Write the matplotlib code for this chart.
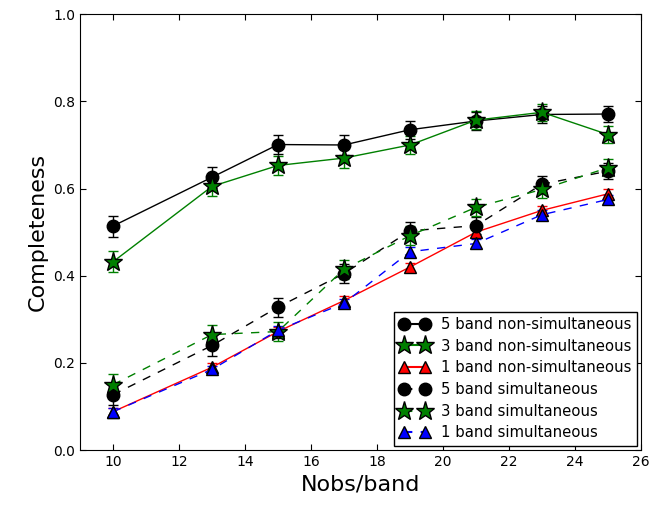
import numpy as np
import matplotlib
matplotlib.use("Agg")
import matplotlib.pyplot as plt
from matplotlib.lines import Line2D

# nombre d'observations par bande
nobs = [10, 13, 15, 17, 19, 21, 23, 25]

# completeness, non-simultaneous
c5_nonsim = [0.514, 0.626, 0.701, 0.700, 0.735, 0.755, 0.770, 0.771]
c3_nonsim = [0.432, 0.605, 0.653, 0.670, 0.700, 0.757, 0.775, 0.724]
c1_nonsim = [0.088, 0.190, 0.272, 0.343, 0.420, 0.500, 0.550, 0.588]

# completeness, simultaneous
c5_sim = [0.127, 0.240, 0.328, 0.405, 0.503, 0.515, 0.610, 0.640]
c3_sim = [0.150, 0.265, 0.272, 0.415, 0.492, 0.557, 0.598, 0.648]
c1_sim = [0.088, 0.185, 0.275, 0.337, 0.455, 0.474, 0.540, 0.575]

# barres d'erreur
err5 = [0.024, 0.024, 0.022, 0.022, 0.021, 0.020, 0.019, 0.019]
err3 = [0.024, 0.023, 0.022, 0.022, 0.021, 0.020, 0.019, 0.020]
err1 = [0.008, 0.009, 0.010, 0.010, 0.010, 0.010, 0.010, 0.010]

plt.rcParams['xtick.direction'] = 'in'
plt.rcParams['ytick.direction'] = 'in'
plt.rcParams['xtick.top'] = True
plt.rcParams['ytick.right'] = True
plt.rcParams['lines.dashed_pattern'] = [6, 6]
plt.rcParams['lines.scale_dashes'] = False

fig = plt.figure(figsize=(6.7, 5.08), dpi=100)
ax = fig.add_axes([0.1194, 0.114, 0.8373, 0.858])

series = [
    (c5_nonsim, err5, '-', 'o', 'k', 9, '5 band non-simultaneous'),
    (c3_nonsim, err3, '-', '*', 'g', 14, '3 band non-simultaneous'),
    (c1_nonsim, err1, '-', '^', 'r', 9, '1 band non-simultaneous'),
    (c5_sim, err5, '--', 'o', 'k', 9, '5 band simultaneous'),
    (c3_sim, err3, '--', '*', 'g', 14, '3 band simultaneous'),
    (c1_sim, err1, '--', '^', 'b', 9, '1 band simultaneous'),
]

handles = []
for y, e, ls, m, c, ms, lab in series:
    ax.errorbar(nobs, y, yerr=e, ls=ls, marker=m, color=c, ecolor=c, ms=ms,
                lw=1, capsize=3.5, elinewidth=1, mec='k', mew=1)
    handles.append(Line2D([], [], ls=ls, marker=m, color=c, ms=ms, lw=1.5,
                          mec='k', mew=1, label=lab))

ax.set_xlim(9, 26)
ax.set_ylim(0, 1)
ax.set_xticks(np.arange(10, 27, 2))
ax.set_yticks(np.arange(0, 1.01, 0.2))
ax.set_yticklabels(['0.0', '0.2', '0.4', '0.6', '0.8', '1.0'])
ax.tick_params(labelsize=10, length=4)
ax.set_xlabel('Nobs/band', fontsize=16)
ax.set_ylabel('Completeness', fontsize=16)

ax.legend(handles=handles, loc='lower right', numpoints=2, fontsize=10.7,
          fancybox=False, edgecolor='k', framealpha=1, borderaxespad=0.3,
          handlelength=2, handletextpad=0.8, labelspacing=0.45, borderpad=0.35)

fig.savefig('out.png', dpi=100)
